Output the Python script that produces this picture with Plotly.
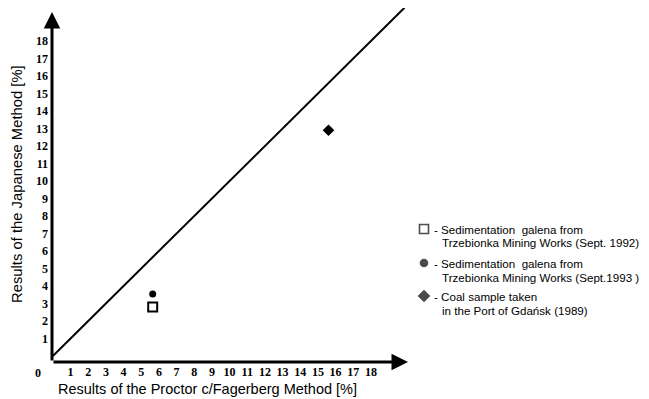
import plotly.graph_objects as go

# ---- data ----
x_ticks = list(range(1, 19))
y_ticks = list(range(1, 19))
line_x = [0, 19.9]
line_y = [0, 19.9]
sed1992_x = [5.65]
sed1992_y = [2.8]
sed1993_x = [5.65]
sed1993_y = [3.55]
coal_x = [15.6]
coal_y = [12.9]
legend_lines = [
    ["- Sedimentation  galena from", "Trzebionka Mining Works (Sept. 1992)"],
    ["- Sedimentation  galena from", "Trzebionka Mining Works (Sept.1993 )"],
    ["- Coal sample taken", "in the Port of Gdańsk (1989)"],
]
x_title = "Results of the Proctor c/Fagerberg Method [%]"
y_title = "Results of the Japanese Method [%]"

# page is rendered with an 8px body margin -> compensate
OFF = 8
W, H = 649 - OFF, 399 - OFF
PL, PR, PT, PB = 52, 649, 8, 362           # plot area in page pixels
L, T = PL - OFF, PT - OFF
B = H - (PB - OFF)
R = 0
PW, PH = PR - PL, PB - PT
MAIN_RIGHT = 408
XR = [-0.05, 20.1]
Y0 = 356          # page px of y = 0
YS = 17.5         # px per unit
YR = [-(PB - Y0) / YS, (Y0 - PT) / YS]


def px(xp):
    return (xp - PL) / PW


def py(yp):
    return (PB - yp) / PH


fig = go.Figure()
fig.add_trace(go.Scatter(x=line_x, y=line_y, mode="lines",
                         line=dict(color="black", width=2), showlegend=False,
                         hoverinfo="skip"))
fig.add_trace(go.Scatter(x=sed1992_x, y=sed1992_y, mode="markers",
                         marker=dict(symbol="square-open", size=9, color="black",
                                     line=dict(width=2, color="black")),
                         showlegend=False))
fig.add_trace(go.Scatter(x=sed1993_x, y=sed1993_y, mode="markers",
                         marker=dict(symbol="circle", size=7, color="black"),
                         showlegend=False))
fig.add_trace(go.Scatter(x=coal_x, y=coal_y, mode="markers",
                         marker=dict(symbol="diamond", size=9, color="black"),
                         showlegend=False))

# legend symbols on overlay pixel axes
leg_sym = ["square-open", "circle", "diamond"]
leg_y_px = [229, 263, 296]
fig.add_trace(go.Scatter(x=[424, 424, 424], y=leg_y_px, mode="markers",
                         xaxis="x2", yaxis="y2",
                         marker=dict(symbol=leg_sym, size=[9, 7, 8], color="black",
                                     line=dict(width=1.6, color="black")),
                         showlegend=False, hoverinfo="skip"))

P = dict(xref="paper", yref="paper")
ann = []
arrow = dict(text="", showarrow=True, arrowhead=2, arrowsize=1.1, arrowwidth=3,
             arrowcolor="black", standoff=0, startstandoff=0)
ann.append(dict(x=px(MAIN_RIGHT), y=py(PB), ax=-(MAIN_RIGHT - PL), ay=0, **P, **arrow))
ann.append(dict(x=px(PL), y=py(12), ax=0, ay=PB - 12, **P, **arrow))
C = dict(xanchor="center", yanchor="middle", showarrow=False)
ann.append(dict(x=px(38), y=py(373), **P, **C, text="0",
                font=dict(family="Liberation Serif", size=12, color="black",
                          weight="bold")))
ann.append(dict(x=px(207), y=py(389), **P, **C, text=x_title,
                font=dict(family="Liberation Sans", size=14.5, color="black")))
ann.append(dict(x=px(17), y=py(184), **P, **C, text=y_title, textangle=-90,
                font=dict(family="Liberation Sans", size=14.8, color="black")))
LF = dict(family="Liberation Sans", size=11.6, color="black")
for (l1, l2), ypx in zip(legend_lines, leg_y_px):
    ann.append(dict(x=px(432), y=py(ypx), **P, text=l1, xanchor="left",
                    yanchor="middle", showarrow=False, font=LF))
    ann.append(dict(x=px(440), y=py(ypx + 14), **P, text=l2, xanchor="left",
                    yanchor="middle", showarrow=False, font=LF))

tickfont = dict(family="Liberation Serif", size=12, color="black", weight="bold")
fig.update_layout(
    width=W, height=H, margin=dict(l=L, r=R, t=T, b=B, pad=0),
    paper_bgcolor="white", plot_bgcolor="rgba(0,0,0,0)",
    xaxis=dict(domain=[0, (MAIN_RIGHT - PL) / PW], range=XR, tickvals=x_ticks,
               ticktext=[str(v) for v in x_ticks], showgrid=False, zeroline=False,
               showline=False, ticks="", tickfont=tickfont, fixedrange=True,
               ticklabelstandoff=1),
    yaxis=dict(range=YR, tickvals=y_ticks, ticktext=[str(v) for v in y_ticks],
               showgrid=False, zeroline=False, showline=False, ticks="",
               tickfont=tickfont, fixedrange=True, ticklabelstandoff=3),
    xaxis2=dict(domain=[0, 1], range=[PL, PR], anchor="y2", visible=False,
                fixedrange=True),
    yaxis2=dict(domain=[0, 1], range=[PB, PT], anchor="x2", visible=False,
                fixedrange=True),
    annotations=ann, showlegend=False,
)
fig.write_html("out.html")
